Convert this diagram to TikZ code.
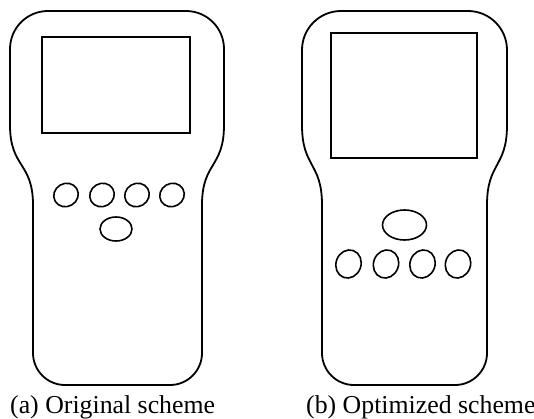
\documentclass[tikz,border=0pt]{standalone}
\usepackage{fontspec}
\setmainfont{Liberation Serif}
\usetikzlibrary{shapes.geometric}
\tikzset{
  casing/.style={draw=black, line width=1.8pt, line join=round},
  screen/.style={
    rectangle,
    draw=black, line width=1.6pt,
    inner sep=0pt},
  key/.style={
    ellipse,
    draw=black, line width=1.6pt,
    inner sep=0pt,
    minimum width=25pt,
    minimum height=23pt},
  tallkey/.style={key, minimum width=28.5pt, minimum height=25pt},
  bigkey/.style={key, minimum width=32pt, minimum height=24pt},
  caption/.style={anchor=base west, inner sep=0pt,
    font=\fontsize{25.8}{30}\selectfont},
}

\begin{document}
\begin{tikzpicture}[x=1pt, y=1pt]
  \useasboundingbox (0,0) rectangle (534,418);
  %% Left handset: wide head, waist, narrow grip
  \draw[casing] (10,293) -- (10,369) arc[start angle=180, end angle=90, radius=38]
    -- (186,407) arc[start angle=90, end angle=0, radius=38]
    -- (224,293) .. controls (224,250) and (202,256) .. (202,213)
    -- (202,65) arc[start angle=0, end angle=-90, radius=32]
    -- (65,33) arc[start angle=-90, end angle=-180, radius=32]
    -- (33,213) .. controls (33,256) and (10,250) .. (10,293) -- cycle;
  \node[screen, minimum width=148pt, minimum height=96pt] (a-screen) at (116,333) {};
  % row of keys, enter key below
  \foreach \i/\x in {1/66,2/102,3/137,4/172}
    \node[key, rotate=30] (a-key\i) at (\x,223) {};
  \node[bigkey] (a-enter) at (116,189) {};
  \node[caption] (a-cap) at (10,5) {(a) Original scheme};

  %% Right handset: bigger screen, enter key above the row
  \draw[casing] (302,293) -- (302,368) arc[start angle=180, end angle=90, radius=39]
    -- (468,407) arc[start angle=90, end angle=0, radius=39]
    -- (507,293) .. controls (507,250) and (487,256) .. (487,213)
    -- (487,65) arc[start angle=0, end angle=-90, radius=32]
    -- (354,33) arc[start angle=-90, end angle=-180, radius=32]
    -- (322,213) .. controls (322,256) and (302,250) .. (302,293) -- cycle;
  \node[screen, minimum width=146pt, minimum height=125pt] (b-screen) at (404,322.5) {};
  \node[bigkey, minimum width=44pt, minimum height=30pt] (b-enter) at (404.5,193) {};
  \foreach \i/\x in {1/348.5,2/386,3/422.5,4/458}
    \node[tallkey, rotate=70] (b-key\i) at (\x,154) {};
  \node[caption] (b-cap) at (306,5) {(b) Optimized scheme};
\end{tikzpicture}
\end{document}
